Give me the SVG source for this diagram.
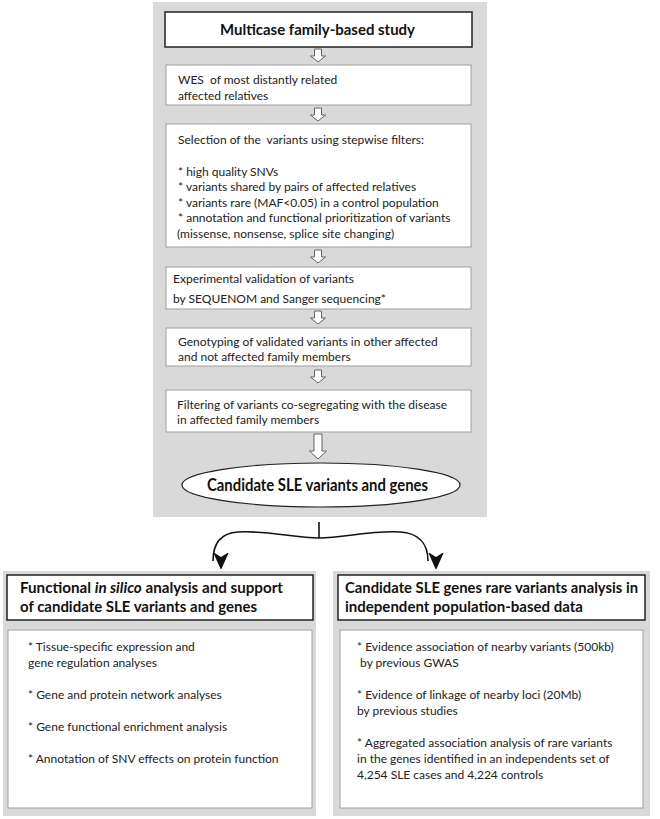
<svg xmlns="http://www.w3.org/2000/svg" width="660" height="819" viewBox="0 0 660 819">
<defs>
<style>
.panel{fill:#d9d9d9;}
.box{fill:#fff;stroke:#a0a0a0;stroke-width:1;}
.tbox{fill:#fff;stroke:#222;stroke-width:1.5;}
.t{font-family:Lato,"Open Sans",sans-serif;font-size:12px;fill:#222;white-space:pre;}
.tb{font-family:Lato,"Open Sans",sans-serif;font-size:15px;font-weight:bold;fill:#111;}
.harrow{fill:#fff;stroke:#555;stroke-width:0.9;}
.conn{fill:none;stroke:#111;stroke-width:1.6;}
</style>
<marker id="ah" markerWidth="16" markerHeight="18" viewBox="0 0 16 18" refX="8" refY="17" orient="auto-start-reverse" markerUnits="userSpaceOnUse">
<path d="M0,0 L8,5 L16,0 L8,18 Z" fill="#111" transform="rotate(-90 8 9)"/>
</marker>
</defs>
<rect width="660" height="819" fill="#fff"/>

<g id="panel-main"><rect class="panel" x="153" y="2" width="334" height="515"/></g>
<g id="panel-left"><rect class="panel" x="3" y="571" width="313" height="245"/></g>
<g id="panel-right"><rect class="panel" x="333" y="571" width="317" height="245"/></g>

<g id="title">
<rect class="tbox" x="165" y="12" width="307" height="35"/>
<text class="tb" x="220" y="35" textLength="195" lengthAdjust="spacingAndGlyphs" style="font-size:16px">Multicase family-based study</text>
</g>
<g id="wes">
<rect class="box" x="166" y="65" width="305" height="40"/>
<text class="t" x="178" y="84" xml:space="preserve">WES  of most distantly related</text>
<text class="t" x="178" y="100">affected relatives</text>
</g>
<g id="selection">
<rect class="box" x="166" y="124" width="305" height="123"/>
<text class="t" x="178" y="144" xml:space="preserve">Selection of the  variants using stepwise filters:</text>
<text class="t" x="178" y="176">* high quality SNVs</text>
<text class="t" x="178" y="191">* variants shared by pairs of affected relatives</text>
<text class="t" x="178" y="207">* variants rare (MAF&lt;0.05) in a control population</text>
<text class="t" x="178" y="222">* annotation and functional prioritization of variants</text>
<text class="t" x="177" y="238">(missense, nonsense, splice site changing)</text>
</g>
<g id="validation">
<rect class="box" x="166" y="267" width="305" height="42"/>
<text class="t" x="173" y="283">Experimental validation of variants</text>
<text class="t" x="173" y="303">by SEQUENOM and Sanger sequencing*</text>
</g>
<g id="genotyping">
<rect class="box" x="166" y="328" width="305" height="38"/>
<text class="t" x="178" y="346">Genotyping of validated variants in other affected</text>
<text class="t" x="178" y="361">and not affected family members</text>
</g>
<g id="filtering">
<rect class="box" x="166" y="390" width="305" height="42"/>
<text class="t" x="177" y="409">Filtering of variants co-segregating with the disease</text>
<text class="t" x="177" y="424">in affected family members</text>
</g>
<g id="candidates">
<ellipse cx="321" cy="485" rx="139" ry="22" fill="#fff" stroke="#222" stroke-width="1.2"/>
<text class="tb" x="207" y="491" textLength="221" lengthAdjust="spacingAndGlyphs" style="font-size:16.5px">Candidate SLE variants and genes</text>
</g>

<g id="functional">
<rect class="tbox" x="7" y="575" width="306" height="45"/>
<text class="tb" x="20" y="593" textLength="263" lengthAdjust="spacingAndGlyphs">Functional <tspan font-style="italic">in silico</tspan> analysis and support</text>
<text class="tb" x="20" y="612" textLength="237" lengthAdjust="spacingAndGlyphs">of candidate SLE variants and genes</text>
<rect class="box" x="8" y="630" width="304" height="178"/>
<text class="t" x="28" y="651">* Tissue-specific expression and</text>
<text class="t" x="28" y="667">gene regulation analyses</text>
<text class="t" x="28" y="699">* Gene and protein network analyses</text>
<text class="t" x="28" y="731">* Gene functional enrichment analysis</text>
<text class="t" x="28" y="763">* Annotation of SNV effects on protein function</text>
</g>
<g id="population">
<rect class="tbox" x="338" y="575" width="307" height="45"/>
<text class="tb" x="345" y="593" textLength="293" lengthAdjust="spacingAndGlyphs">Candidate SLE genes rare variants analysis in</text>
<text class="tb" x="345" y="612" textLength="238" lengthAdjust="spacingAndGlyphs">independent population-based data</text>
<rect class="box" x="340" y="630" width="303" height="178"/>
<text class="t" x="357" y="651">* Evidence association of nearby variants (500kb)</text>
<text class="t" x="357" y="667" xml:space="preserve"> by previous GWAS</text>
<text class="t" x="357" y="699">* Evidence of linkage of nearby loci (20Mb)</text>
<text class="t" x="357" y="715">by previous studies</text>
<text class="t" x="357" y="747">* Aggregated association analysis of rare variants</text>
<text class="t" x="357" y="763">in the genes identified in an independents set of</text>
<text class="t" x="357" y="779">4,254 SLE cases and 4,224 controls</text>
</g>

<g id="connectors">
<path class="harrow" d="M314.5,49 h7 v7 h4 l-7.5,6 l-7.5,-6 h4 z"/>
<path class="harrow" d="M314.5,108 h7 v7 h4 l-7.5,6 l-7.5,-6 h4 z"/>
<path class="harrow" d="M314.5,250 h7 v7 h4 l-7.5,6 l-7.5,-6 h4 z"/>
<path class="harrow" d="M314.5,311 h7 v7 h4 l-7.5,6 l-7.5,-6 h4 z"/>
<path class="harrow" d="M314.5,370 h7 v7 h4 l-7.5,6 l-7.5,-6 h4 z"/>
<path class="harrow" d="M314,434 h8 v17 h4.5 l-8.5,8 l-8.5,-8 h4.5 z"/>
<line class="conn" x1="319" y1="522" x2="319" y2="538"/>
<path class="conn" d="M319,538 C295,538 265,530 238,532 C222,533 213,542 213,561" marker-end="url(#ah)"/>
<path class="conn" d="M319,538 C343,538 373,530 400,532 C417,533 428,542 428,561" marker-end="url(#ah)"/>
</g>
</svg>
